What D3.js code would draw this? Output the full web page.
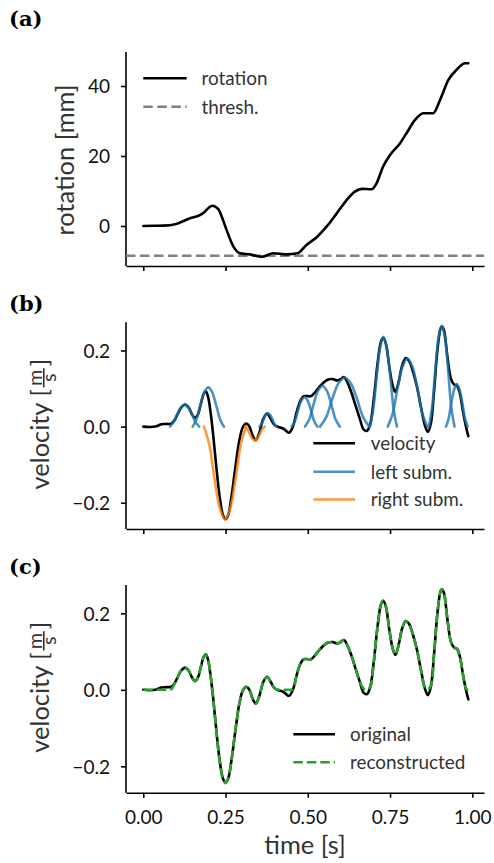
<!DOCTYPE html>
<html><head><meta charset="utf-8">
<script src="https://cdn.jsdelivr.net/npm/d3@7"></script>
<style>body{margin:0;background:#fff}svg{display:block}</style>
</head><body>
<svg id="chart" width="494" height="863"></svg>
<script>
// ---------------- data ----------------
const timeTicks = [0, 0.25, 0.5, 0.75, 1.0];
const timeTickLabels = ["0.00", "0.25", "0.50", "0.75", "1.00"];
const rotTicks = [0, 20, 40];
const rotTickLabels = ["0", "20", "40"];
const velTicks = [-0.2, 0, 0.2];
const velTickLabels = ["\u22120.2", "0.0", "0.2"];
const threshold = -8.5;

const rotT = [0, 0.03, 0.06, 0.10, 0.142, 0.172, 0.187, 0.20, 0.21, 0.228, 0.24, 0.253, 0.274, 0.294, 0.324, 0.36, 0.395, 0.436, 0.469, 0.496, 0.527, 0.557, 0.588, 0.618, 0.643, 0.664, 0.694, 0.709, 0.729, 0.75, 0.78, 0.80, 0.826, 0.851, 0.881, 0.902, 0.927, 0.952, 0.978, 0.988];
const rotV = [0, 0.05, 0.1, 0.6, 2.2, 3.1, 4.1, 5.3, 5.8, 4.8, 2.3, -1.1, -5.9, -7.8, -8.1, -8.8, -7.8, -8.1, -7.8, -5.4, -3.2, -0.2, 3.6, 7.4, 9.8, 10.6, 10.5, 12.2, 17.0, 20.3, 23.6, 26.5, 30.3, 32.2, 32.2, 36.0, 41.7, 44.6, 46.5, 46.5];

const velT = [0.000,0.020,0.040,0.055,0.070,0.085,0.095,0.105,0.115,0.127,0.138,0.148,0.157,0.165,0.175,0.183,0.190,0.197,0.205,0.213,0.222,0.232,0.242,0.250,0.258,0.268,0.280,0.292,0.303,0.313,0.322,0.333,0.342,0.352,0.365,0.376,0.387,0.398,0.410,0.425,0.443,0.455,0.466,0.478,0.488,0.500,0.510,0.520,0.533,0.546,0.560,0.575,0.590,0.600,0.610,0.620,0.632,0.645,0.658,0.670,0.680,0.690,0.700,0.712,0.722,0.729,0.737,0.748,0.758,0.766,0.776,0.787,0.798,0.808,0.820,0.832,0.845,0.856,0.865,0.874,0.884,0.894,0.904,0.908,0.914,0.924,0.935,0.945,0.953,0.962,0.972,0.982,0.988];
const velV = [0.000,-0.001,0.001,0.006,0.007,0.008,0.017,0.034,0.050,0.058,0.050,0.032,0.023,0.030,0.060,0.085,0.093,0.078,0.034,-0.027,-0.106,-0.184,-0.232,-0.243,-0.232,-0.184,-0.106,-0.036,-0.001,0.008,0.001,-0.025,-0.036,-0.018,0.021,0.034,0.021,0.005,-0.001,-0.005,-0.016,0.001,0.038,0.069,0.080,0.080,0.080,0.088,0.102,0.114,0.123,0.125,0.121,0.125,0.130,0.117,0.091,0.056,0.021,-0.008,-0.011,0.008,0.069,0.165,0.222,0.233,0.219,0.156,0.108,0.091,0.117,0.161,0.180,0.172,0.143,0.104,0.047,0.003,-0.014,0.008,0.095,0.200,0.259,0.263,0.253,0.187,0.126,0.110,0.108,0.088,0.038,-0.005,-0.025];
const recV = [0.000,0.000,0.000,0.000,0.000,0.001,0.016,0.034,0.050,0.058,0.050,0.032,0.022,0.030,0.060,0.085,0.092,0.078,0.034,-0.027,-0.106,-0.184,-0.232,-0.244,-0.232,-0.184,-0.106,-0.036,-0.001,0.008,0.001,-0.025,-0.036,-0.018,0.021,0.034,0.021,0.005,0.000,0.000,0.000,0.001,0.038,0.069,0.080,0.080,0.080,0.088,0.102,0.114,0.123,0.125,0.121,0.125,0.130,0.117,0.091,0.056,0.021,0.003,0.000,0.008,0.069,0.165,0.222,0.233,0.219,0.156,0.108,0.091,0.117,0.161,0.180,0.172,0.143,0.104,0.047,0.006,0.002,0.010,0.095,0.200,0.259,0.263,0.253,0.187,0.126,0.110,0.108,0.088,0.038,0.002,0.000];

// left (positive) submovements: times and values
const leftSubT = [
  [0.081,0.092,0.103,0.114,0.1255,0.137,0.148,0.159,0.170],
  [0.150,0.162,0.174,0.186,0.1975,0.209,0.221,0.233,0.245],
  [0.353,0.3595,0.366,0.3725,0.379,0.3855,0.392,0.3985,0.405],
  [0.451,0.461,0.4705,0.480,0.490,0.500,0.5095,0.519,0.529],
  [0.4915,0.505,0.518,0.531,0.5445,0.558,0.571,0.584,0.5975],
  [0.537,0.556,0.5745,0.593,0.612,0.631,0.6495,0.668,0.687],
  [0.689,0.699,0.7095,0.720,0.730,0.740,0.7505,0.761,0.771],
  [0.743,0.758,0.773,0.788,0.803,0.818,0.833,0.848,0.863],
  [0.868,0.878,0.8875,0.897,0.907,0.917,0.9265,0.936,0.946],
  [0.920,0.928,0.9365,0.945,0.953,0.961,0.9695,0.978,0.986]
];
const leftSubV = [
  [0,0.011,0.032,0.050,0.057,0.050,0.032,0.011,0],
  [0,0.020,0.058,0.091,0.103,0.091,0.058,0.020,0],
  [0,0.007,0.020,0.031,0.035,0.031,0.020,0.007,0],
  [0,0.015,0.043,0.068,0.077,0.068,0.043,0.015,0],
  [0,0.020,0.060,0.094,0.107,0.094,0.060,0.020,0],
  [0,0.025,0.073,0.113,0.129,0.113,0.073,0.025,0],
  [0,0.045,0.133,0.207,0.236,0.207,0.133,0.045,0],
  [0,0.034,0.101,0.157,0.179,0.157,0.101,0.034,0],
  [0,0.051,0.149,0.233,0.265,0.233,0.149,0.051,0],
  [0,0.021,0.063,0.098,0.112,0.098,0.063,0.021,0]
];
// right (negative) submovements
const rightSubT = [
  [0.1845,0.2005,0.2165,0.2325,0.2485,0.2645,0.2805,0.2965,0.3125],
  [0.309,0.3165,0.324,0.3315,0.339,0.3465,0.354,0.3615,0.369]
];
const rightSubV = [
  [0,-0.047,-0.137,-0.214,-0.244,-0.214,-0.137,-0.047,0],
  [0,-0.007,-0.020,-0.032,-0.036,-0.032,-0.020,-0.007,0]
];

// ---------------- drawing ----------------
const svg = d3.select("#chart");
const FONT = "Lato, 'Open Sans', sans-serif";
const BLUE = "#1f77b4", ORANGE = "#ff7f0e", GREEN = "#2ca02c";
const LW = 2.6;

function fitSize(str, target, weight) {
  const t = svg.append("text").attr("font-family", FONT).attr("font-size", 100)
    .attr("font-weight", weight || "normal").text(str);
  const w = t.node().getComputedTextLength();
  t.remove();
  return 100 * target / w;
}
const TICK_FS = fitSize("0.00", 37.7);
const LEG_FS = fitSize("rotation", 66);
const LAB_FS = fitSize("velocity", 87);

const x = d3.scaleLinear().domain([-0.0526, 1.0356]).range([126, 484]);

const panels = {
  a: {top: 52, bottom: 266, domain: [-11.43, 49.71]},
  b: {top: 322.3, bottom: 529, domain: [-0.269, 0.274]},
  c: {top: 585, bottom: 792.7, domain: [-0.269, 0.274]}
};
for (const k in panels) {
  const p = panels[k];
  p.y = d3.scaleLinear().domain(p.domain).range([p.bottom, p.top]);
}

function axes(p, ticks, tickLabels, showX) {
  const gy = svg.append("g").attr("transform", "translate(126,0)")
    .call(d3.axisLeft(p.y).tickValues(ticks).tickFormat((d, i) => tickLabels[i])
      .tickSize(5).tickSizeOuter(0).tickPadding(11));
  const gx = svg.append("g").attr("transform", `translate(0,${p.bottom})`)
    .call(d3.axisBottom(x).tickValues(timeTicks)
      .tickFormat((d, i) => showX ? timeTickLabels[i] : "")
      .tickSize(5).tickSizeOuter(0).tickPadding(8));
  [gx, gy].forEach(g => {
    g.selectAll("path.domain").attr("stroke", "#000").attr("stroke-width", 1.6);
    g.selectAll(".tick line").attr("stroke", "#000").attr("stroke-width", 1.6);
    g.selectAll(".tick text").attr("font-family", FONT).attr("font-size", TICK_FS).attr("fill", "#111");
  });
  gy.selectAll(".tick text").attr("dy", "0.36em");
  gx.selectAll(".tick text").attr("y", 824 - p.bottom).attr("dy", 0);
  gy.select("path.domain").attr("d", `M0,${p.bottom}V${p.top}`);
}

const curve = d3.curveCatmullRom.alpha(0.5);
function drawLine(ts, vs, yScale, color, opts = {}) {
  const line = d3.line().x(d => x(d[0])).y(d => yScale(d[1])).curve(opts.curve || curve);
  svg.append("path").datum(ts.map((t, i) => [t, vs[i]]))
    .attr("d", line).attr("fill", "none").attr("stroke", color)
    .attr("stroke-width", opts.width || LW)
    .attr("stroke-opacity", opts.opacity == null ? 1 : opts.opacity)
    .attr("stroke-dasharray", opts.dash || null)
    .attr("stroke-linecap", opts.dash ? "butt" : "round")
    .attr("stroke-linejoin", "round");
}

function legend(items, x0, x1, tx, ys) {
  items.forEach((it, i) => {
    svg.append("line").attr("x1", x0).attr("x2", x1).attr("y1", ys[i]).attr("y2", ys[i])
      .attr("stroke", it.color).attr("stroke-width", LW)
      .attr("stroke-opacity", it.opacity == null ? 1 : it.opacity)
      .attr("stroke-dasharray", it.dash || null);
    svg.append("text").attr("x", tx).attr("y", ys[i]).attr("dy", "0.36em")
      .attr("font-family", FONT).attr("font-size", LEG_FS).attr("fill", "#333")
      .text(it.label);
  });
}

function panelLabel(str, y) {
  svg.append("text").attr("x", 9).attr("y", y)
    .attr("font-family", "'DejaVu Serif', serif").attr("font-weight", "bold")
    .attr("font-size", 21).attr("fill", "#000").text(str);
}

function velLabel(cy) {
  const g = svg.append("g").attr("transform", `translate(49,${cy}) rotate(-90)`);
  const mk = (str, fs) => g.append("text").attr("font-family", FONT).attr("font-size", fs)
    .attr("fill", "#333").text(str);
  const tV = mk("velocity", LAB_FS);
  const wV = tV.node().getComputedTextLength();
  const b1 = mk("[", 24);
  const wB = b1.node().getComputedTextLength();
  const tm = mk("m", 19.5), ts = mk("s", 19.5);
  const wm = tm.node().getComputedTextLength(), wsz = ts.node().getComputedTextLength();
  const b2 = mk("]", 24);
  const uB1 = wV + 6;
  const uBar = uB1 + wB + 2;
  const barLen = Math.max(wm, wsz) + 3;
  const uB2 = uBar + barLen + 2;
  const total = uB2 + wB;
  const s = -total / 2 + 1.5;
  tV.attr("x", s).attr("y", 0);
  b1.attr("x", uB1 + s).attr("y", -1.5);
  tm.attr("x", uBar + s + barLen / 2).attr("text-anchor", "middle").attr("y", -7);
  ts.attr("x", uBar + s + barLen / 2).attr("text-anchor", "middle").attr("y", 6.5);
  g.append("line").attr("x1", uBar + s).attr("x2", uBar + s + barLen)
    .attr("y1", -5.2).attr("y2", -5.2).attr("stroke", "#333").attr("stroke-width", 1.6);
  b2.attr("x", uB2 + s).attr("y", -1.5);
}

// ---- panel (a)
const pa = panels.a;
axes(pa, rotTicks, rotTickLabels, false);
svg.append("line").attr("x1", 126).attr("x2", 484)
  .attr("y1", pa.y(threshold)).attr("y2", pa.y(threshold))
  .attr("stroke", "#808080").attr("stroke-width", LW).attr("stroke-dasharray", "9.5,4.5");
drawLine(rotT, rotV, pa.y, "#000", {curve: d3.curveMonotoneX});
legend([{label: "rotation", color: "#000"}, {label: "thresh.", color: "#808080", dash: "9.5,4.5"}],
  143.3, 186.7, 201.5, [78.3, 106.7]);
svg.append("text").attr("transform", `translate(74,160) rotate(-90)`).attr("text-anchor", "middle")
  .attr("font-family", FONT).attr("font-size", LAB_FS).attr("fill", "#333").text("rotation [mm]");
panelLabel("(a)", 26);

// ---- panel (b)
const pb = panels.b;
axes(pb, velTicks, velTickLabels, false);
drawLine(velT, velV, pb.y, "#000");
leftSubT.forEach((ts, i) => drawLine(ts, leftSubV[i], pb.y, BLUE, {opacity: 0.8}));
rightSubT.forEach((ts, i) => drawLine(ts, rightSubV[i], pb.y, ORANGE, {opacity: 0.8}));
legend([{label: "velocity", color: "#000"}, {label: "left subm.", color: BLUE, opacity: 0.8},
  {label: "right subm.", color: ORANGE, opacity: 0.8}], 313.3, 355, 370.7, [443.3, 471.7, 499.5]);
velLabel((pb.top + pb.bottom) / 2);
panelLabel("(b)", 311);

// ---- panel (c)
const pc = panels.c;
axes(pc, velTicks, velTickLabels, true);
drawLine(velT, velV, pc.y, "#000");
drawLine(velT, recV, pc.y, GREEN, {dash: "9.5,4"});
legend([{label: "original", color: "#000"}, {label: "reconstructed", color: GREEN, dash: "9.5,4"}],
  293.3, 335, 350, [734.3, 762.3]);
velLabel((pc.top + pc.bottom) / 2);
svg.append("text").attr("x", 305).attr("y", 854).attr("text-anchor", "middle")
  .attr("font-family", FONT).attr("font-size", LAB_FS).attr("fill", "#333").text("time [s]");
panelLabel("(c)", 574);
</script>
</body></html>
